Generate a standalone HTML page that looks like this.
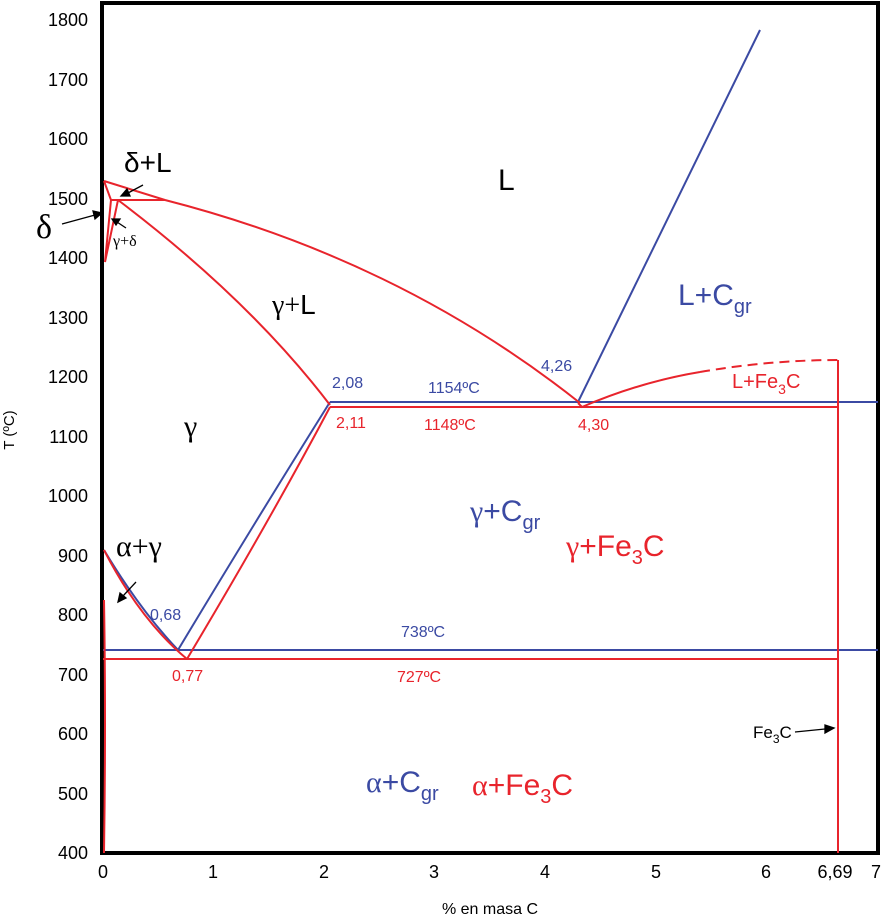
<!DOCTYPE html>
<html><head><meta charset="utf-8"><style>body{margin:0;background:#fff}svg{display:block}</style></head><body>
<svg width="882" height="921" viewBox="0 0 882 921" xmlns="http://www.w3.org/2000/svg" font-family="Liberation Sans, sans-serif">
<rect x="0" y="0" width="882" height="921" fill="#fff"/>
<!-- frame -->
<path d="M102,3 H878 V853 H102 Z" fill="none" stroke="#000" stroke-width="4"/>
<!-- y ticks -->
<g font-size="18" fill="#000" text-anchor="end">
<text x="88" y="26">1800</text><text x="88" y="86">1700</text><text x="88" y="145">1600</text>
<text x="88" y="205">1500</text><text x="88" y="264">1400</text><text x="88" y="324">1300</text>
<text x="88" y="383">1200</text><text x="88" y="443">1100</text><text x="88" y="502">1000</text>
<text x="88" y="562">900</text><text x="88" y="621">800</text><text x="88" y="681">700</text>
<text x="88" y="740">600</text><text x="88" y="800">500</text><text x="88" y="859">400</text>
</g>
<g font-size="18" fill="#000" text-anchor="middle">
<text x="103" y="878">0</text><text x="213" y="878">1</text><text x="324" y="878">2</text>
<text x="434" y="878">3</text><text x="545" y="878">4</text><text x="656" y="878">5</text>
<text x="766" y="878">6</text><text x="835" y="878">6,69</text><text x="876" y="878">7</text>
</g>
<text x="490" y="914" font-size="16" text-anchor="middle">% en masa C</text>
<text x="14" y="430" font-size="15" text-anchor="middle" transform="rotate(-90 14 430)">T (ºC)</text>
<!-- blue lines -->
<g stroke="#3b4aa3" stroke-width="2" fill="none">
<line x1="330" y1="402" x2="878" y2="402"/>
<line x1="578" y1="402" x2="760" y2="30"/>
<line x1="103" y1="650" x2="878" y2="650"/>
<path d="M178,650 Q250,530 330,402"/>
<path d="M104,550 Q140,610 178,650"/>
</g>
<!-- red lines -->
<g stroke="#e8242c" stroke-width="2" fill="none">
<path d="M104,181 L165,200 Q400,260 580,403"/>
<line x1="111" y1="200" x2="165" y2="200"/>
<path d="M104,181 L111,200 L105,262 L118,200"/>
<path d="M118,200 Q250,300 330,405"/>
<line x1="330" y1="407" x2="838" y2="407"/>
<path d="M578,403 L582,407 Q640,382 700,372"/>
<path d="M700,372 Q770,360 838,360" stroke-dasharray="10,6"/>
<line x1="838" y1="360" x2="838" y2="853"/>
<line x1="103" y1="659" x2="838" y2="659"/>
<path d="M187,659 Q270,520 330,407"/>
<path d="M104,550 Q140,620 187,659"/>
<path d="M104,600 Q106,720 104,853"/>
</g>
<!-- arrows -->
<g stroke="#000" stroke-width="1.3" fill="#000">
<line x1="62" y1="224" x2="95" y2="215"/><path d="M102,213 L93,211 L95,219 Z"/>
<line x1="143" y1="185" x2="128" y2="193"/><path d="M121,196 L127,189 L130,196 Z"/>
<line x1="126" y1="228" x2="117" y2="222"/><path d="M112,219 L120,219 L116,225 Z"/>
<line x1="136" y1="582" x2="123" y2="596"/><path d="M118,602 L120,593 L126,598 Z"/>
<line x1="795" y1="732" x2="825" y2="729"/><path d="M834,728 L825,725 L825,733 Z"/>
</g>
<!-- labels black -->
<g fill="#000" font-family="Liberation Serif, serif">
<text x="124" y="172" font-size="28" font-family="Liberation Sans, sans-serif">δ+L</text>
<text x="36" y="238" font-size="34">δ</text>
<text x="113" y="246" font-size="16">γ+δ</text>
<text x="272" y="314" font-size="28">γ+<tspan font-family="Liberation Sans, sans-serif">L</tspan></text>
<text x="498" y="190" font-size="30" font-family="Liberation Sans, sans-serif">L</text>
<text x="184" y="436" font-size="30">γ</text>
<text x="116" y="556" font-size="30">α+γ</text>
<text x="753" y="738" font-size="17" font-family="Liberation Sans, sans-serif">Fe<tspan font-size="12" dy="5">3</tspan><tspan dy="-5">C</tspan></text>
</g>
<!-- blue labels -->
<g fill="#3b4aa3">
<text x="678" y="305" font-size="30">L+C<tspan font-size="20" dy="8">gr</tspan></text>
<text x="332" y="388" font-size="16">2,08</text>
<text x="428" y="393" font-size="16">1154ºC</text>
<text x="541" y="371" font-size="16">4,26</text>
<text x="150" y="620" font-size="16">0,68</text>
<text x="401" y="637" font-size="16">738ºC</text>
<text x="470" y="521" font-size="30"><tspan font-family="Liberation Serif, serif">γ</tspan>+C<tspan font-size="20" dy="8">gr</tspan></text>
<text x="366" y="792" font-size="30"><tspan font-family="Liberation Serif, serif">α</tspan>+C<tspan font-size="20" dy="8">gr</tspan></text>
</g>
<!-- red labels -->
<g fill="#e8242c">
<text x="732" y="388" font-size="20">L+Fe<tspan font-size="14" dy="6">3</tspan><tspan dy="-6">C</tspan></text>
<text x="336" y="428" font-size="16">2,11</text>
<text x="424" y="430" font-size="16">1148ºC</text>
<text x="578" y="430" font-size="16">4,30</text>
<text x="172" y="681" font-size="16">0,77</text>
<text x="397" y="682" font-size="16">727ºC</text>
<text x="566" y="556" font-size="30"><tspan font-family="Liberation Serif, serif">γ</tspan>+Fe<tspan font-size="20" dy="8">3</tspan><tspan dy="-8">C</tspan></text>
<text x="472" y="795" font-size="30"><tspan font-family="Liberation Serif, serif">α</tspan>+Fe<tspan font-size="20" dy="8">3</tspan><tspan dy="-8">C</tspan></text>
</g>
</svg>
</body></html>
